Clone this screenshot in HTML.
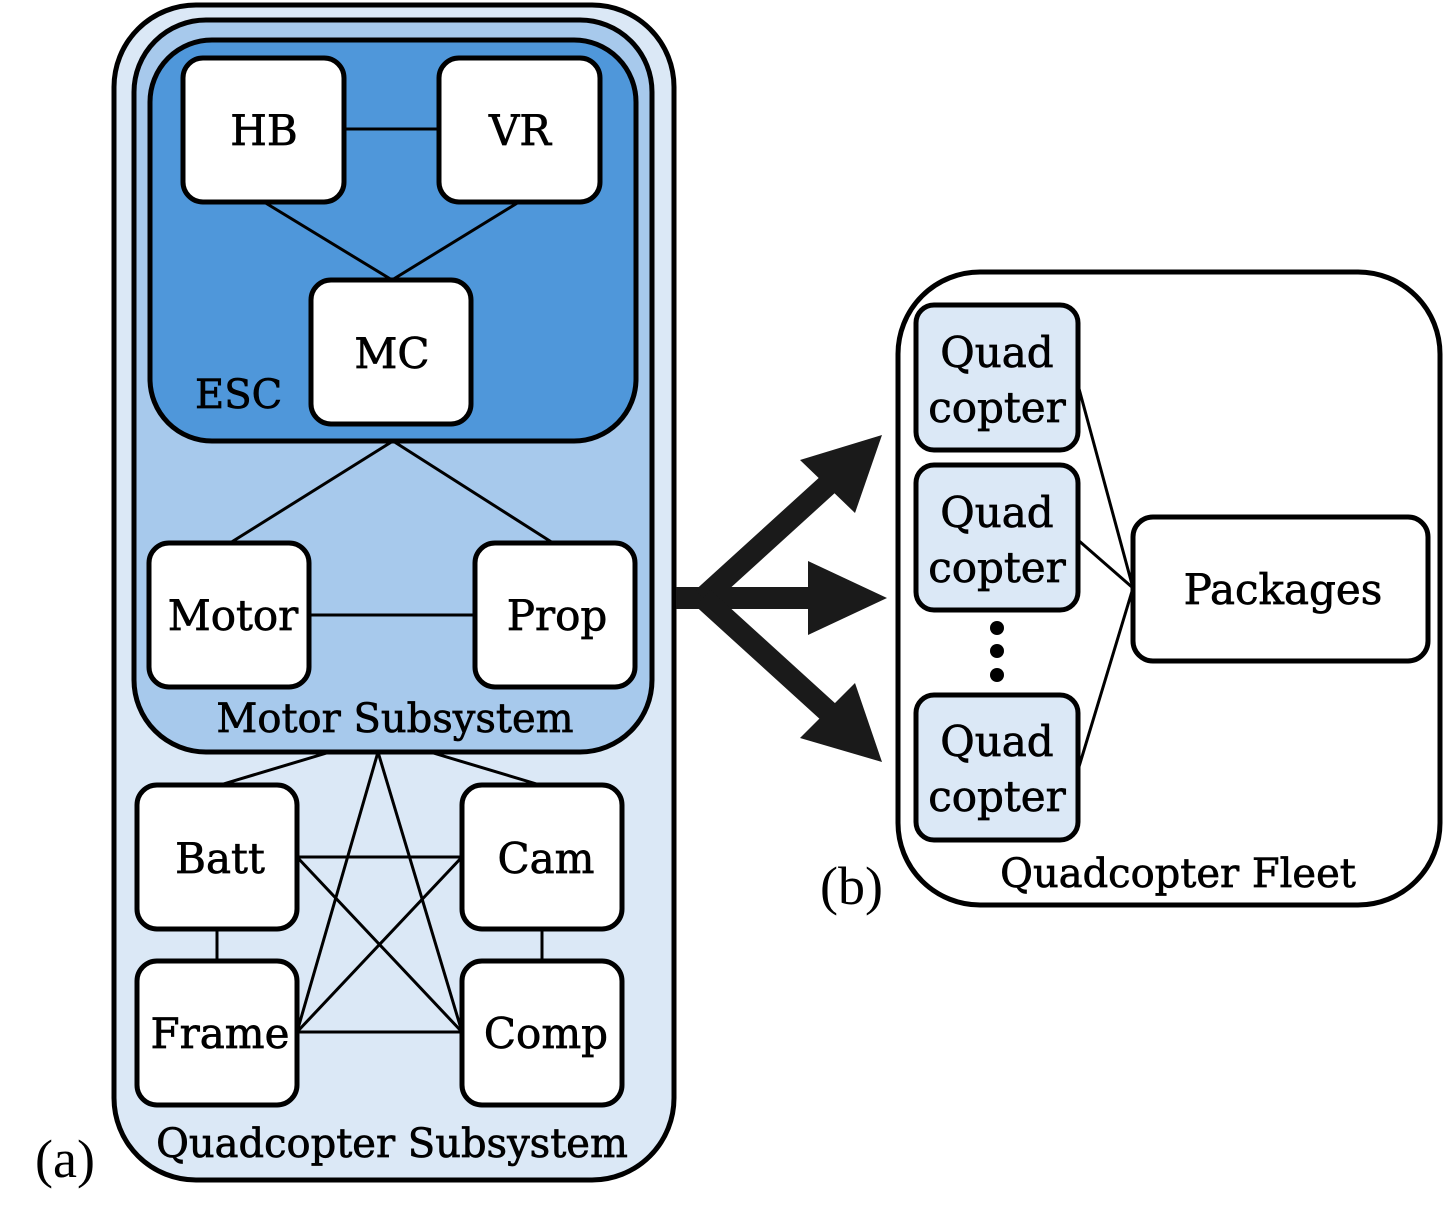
<!DOCTYPE html>
<html><head><meta charset="utf-8"><style>
html,body{margin:0;padding:0;background:#fff;}
svg text{font-family:"DejaVu Serif","Liberation Serif",serif;fill:#000;}
.t text{stroke:#000;stroke-width:0.7;}
</style></head><body>
<svg width="1455" height="1224" viewBox="0 0 1455 1224" xmlns="http://www.w3.org/2000/svg">
<g stroke="#000" stroke-width="5">
<rect x="114" y="5" width="560" height="1175" rx="82" fill="#dbe8f6"/>
<rect x="134" y="20" width="518" height="732" rx="72" fill="#a7c9ec"/>
<rect x="150" y="40" width="486" height="401" rx="62" fill="#4f97da"/>
<g stroke-width="3" fill="none">
<line x1="344" y1="129" x2="439" y2="129"/>
<line x1="264" y1="202" x2="392" y2="280"/>
<line x1="519" y1="202" x2="392" y2="280"/>
<line x1="393" y1="441" x2="230" y2="543"/>
<line x1="393" y1="441" x2="553" y2="543"/>
<line x1="309" y1="615" x2="475" y2="615"/>
<line x1="330" y1="752" x2="220" y2="785"/>
<line x1="430" y1="752" x2="540" y2="785"/>
<line x1="378" y1="752" x2="297" y2="1032"/>
<line x1="378" y1="752" x2="462" y2="1032"/>
<line x1="297" y1="857" x2="462" y2="857"/>
<line x1="297" y1="857" x2="462" y2="1032"/>
<line x1="462" y1="857" x2="297" y2="1032"/>
<line x1="297" y1="1032" x2="462" y2="1032"/>
<line x1="217" y1="929" x2="217" y2="961"/>
<line x1="542" y1="929" x2="542" y2="961"/>
</g>
<g fill="#fff">
<rect x="183" y="58" width="161" height="144" rx="20"/>
<rect x="439" y="58" width="161" height="144" rx="20"/>
<rect x="311" y="280" width="160" height="144" rx="20"/>
<rect x="149" y="543" width="160" height="144" rx="20"/>
<rect x="475" y="543" width="160" height="144" rx="20"/>
<rect x="137" y="785" width="160" height="144" rx="20"/>
<rect x="462" y="785" width="160" height="144" rx="20"/>
<rect x="137" y="961" width="160" height="144" rx="20"/>
<rect x="462" y="961" width="160" height="144" rx="20"/>
</g>
<rect x="898" y="272" width="542" height="633" rx="82" fill="#fff"/>
<g stroke-width="3">
<line x1="1078" y1="385" x2="1133" y2="588"/>
<line x1="1078" y1="540" x2="1133" y2="588"/>
<line x1="1078" y1="770" x2="1133" y2="588"/>
</g>
<g fill="#dbe8f6">
<rect x="916" y="305" width="162" height="145" rx="18"/>
<rect x="916" y="465" width="162" height="145" rx="18"/>
<rect x="916" y="695" width="162" height="145" rx="18"/>
</g>
<rect x="1133" y="517" width="295" height="144" rx="20" fill="#fff"/>
</g>
<g fill="#000">
<circle cx="997" cy="628" r="7"/><circle cx="997" cy="651" r="7"/><circle cx="997" cy="675" r="7"/>
</g>
<g stroke="#1a1a1a" stroke-width="22" fill="none">
<line x1="676" y1="598" x2="710" y2="598"/>
<line x1="703" y1="598" x2="835" y2="478"/>
<line x1="703" y1="598" x2="830" y2="598"/>
<line x1="703" y1="598" x2="835" y2="718"/>
</g>
<g fill="#1a1a1a">
<polygon points="882,435 800,460 855,513"/>
<polygon points="887,598 808,561 808,635"/>
<polygon points="882,762 855,683 800,738"/>
</g>
<g class="t">
<g font-size="42" text-anchor="middle">
<text x="264" y="145">HB</text>
<text x="520" y="145">VR</text>
<text x="392" y="368">MC</text>
<text x="233" y="630">Motor</text>
<text x="557" y="630">Prop</text>
<text x="220" y="873">Batt</text>
<text x="546" y="873">Cam</text>
<text x="220" y="1048">Frame</text>
<text x="546" y="1048">Comp</text>
<text x="997" y="367">Quad</text><text x="997" y="422">copter</text>
<text x="997" y="527">Quad</text><text x="997" y="582">copter</text>
<text x="997" y="756">Quad</text><text x="997" y="811">copter</text>
<text x="1283" y="604">Packages</text>
</g>
<g font-size="40">
<text x="195" y="408">ESC</text>
<text x="395" y="732" text-anchor="middle">Motor Subsystem</text>
<text x="392" y="1157" text-anchor="middle">Quadcopter Subsystem</text>
<text x="1178" y="887" text-anchor="middle">Quadcopter Fleet</text>
</g>
</g>
<text x="35" y="1177" font-size="54" style="font-family:'Liberation Serif',serif">(a)</text>
<text x="820" y="904" font-size="54" style="font-family:'Liberation Serif',serif">(b)</text>
</svg>
</body></html>
